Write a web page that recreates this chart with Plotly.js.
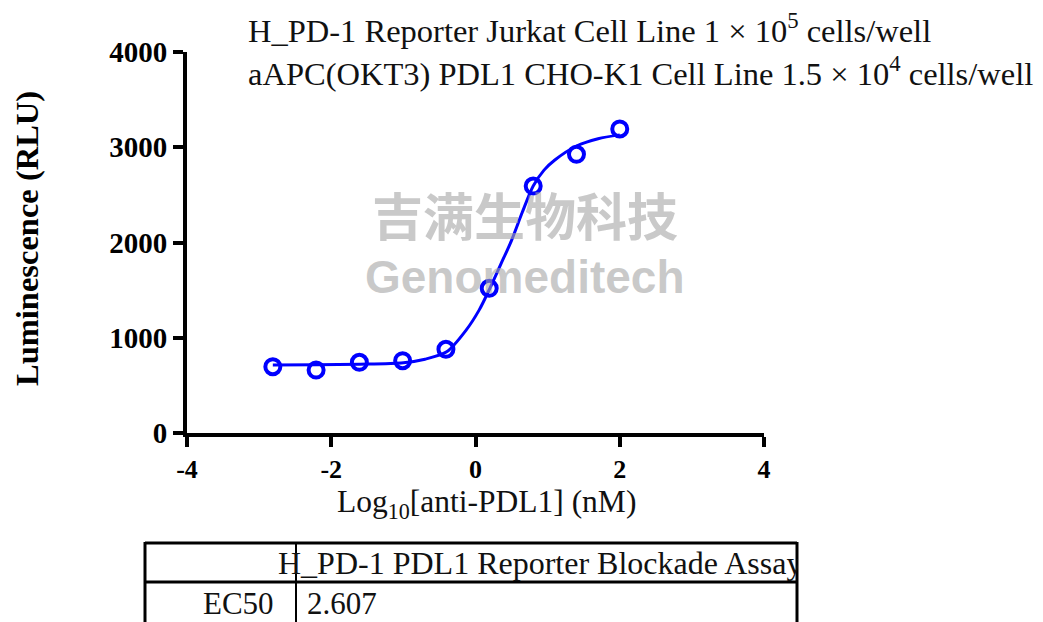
<!DOCTYPE html>
<html>
<head>
<meta charset="utf-8">
<script src="https://cdn.plot.ly/plotly-3.0.1.min.js"></script>
<style>
  html, body { margin: 0; padding: 0; background: #fff; }
  #chart { width: 1043px; height: 622px; }
</style>
</head>
<body>
<div id="chart"></div>
<script>
// ---- Data ----
const logConc = [-2.81, -2.21, -1.61, -1.01, -0.41, 0.19, 0.80, 1.40, 2.00];
const rlu = [696, 661, 742, 759, 879, 1519, 2593, 2926, 3192];

// fitted curve
const fitX = [-2.81, -2.2, -1.6, -1.0, -0.7, -0.4, -0.13, 0.05, 0.2, 0.35, 0.5, 0.65, 0.8, 0.95, 1.1, 1.4, 1.7, 2.0];
const fitY = [715, 716, 722, 738, 775, 852, 1080, 1290, 1519, 1770, 2023, 2320, 2593, 2760, 2866, 3013, 3090, 3130];

const xTicks = [-4, -2, 0, 2, 4];
const yTicks = [0, 1000, 2000, 3000, 4000];

const titleLines = [
  "H_PD-1 Reporter Jurkat Cell Line 1 × 10<sup>5</sup> cells/well",
  "aAPC(OKT3) PDL1 CHO-K1 Cell Line 1.5 × 10<sup>4</sup> cells/well"
];
const yTitle = "Luminescence (RLU)";
const xTitle = "Log<sub>10</sub>[anti-PDL1] (nM)";
const tableHeader = "H_PD-1 PDL1 Reporter Blockade Assay";
const tableRowLabel = "EC50";
const tableRowValue = "2.607";
const watermarkCN = "吉满生物科技";
const watermarkEN = "Genomeditech";

// ---- layout geometry (pixels) ----
const W = 1043, H = 622;
const L = 187, R = 764, T = 52, B = 433;
const pw = R - L, ph = B - T;
const px2x = p => (p - L) / pw;
const py2y = p => (B - p) / ph;

const serif = "Liberation Serif, Times New Roman, serif";
const blue = "#0000FF";

const traces = [
  {
    x: fitX, y: fitY, type: "scatter", mode: "lines",
    line: { color: blue, width: 3, shape: "spline", smoothing: 0.8 },
    hoverinfo: "skip", showlegend: false
  },
  {
    x: logConc, y: rlu, type: "scatter", mode: "markers",
    marker: { symbol: "circle-open", size: 15, color: blue, line: { width: 4, color: blue } },
    showlegend: false
  }
];

const lineW = 3;
const shapes = [
  { type: "line", xref: "paper", yref: "paper", x0: px2x(145), x1: px2x(797), y0: py2y(543), y1: py2y(543), line: { color: "#000", width: lineW } },
  { type: "line", xref: "paper", yref: "paper", x0: px2x(145), x1: px2x(797), y0: py2y(582), y1: py2y(582), line: { color: "#000", width: lineW } },
  { type: "line", xref: "paper", yref: "paper", x0: px2x(145), x1: px2x(145), y0: py2y(542), y1: py2y(640), line: { color: "#000", width: lineW } },
  { type: "line", xref: "paper", yref: "paper", x0: px2x(797), x1: px2x(797), y0: py2y(542), y1: py2y(640), line: { color: "#000", width: lineW } },
  { type: "line", xref: "paper", yref: "paper", x0: px2x(296), x1: px2x(296), y0: py2y(542), y1: py2y(640), line: { color: "#000", width: 2 } }
];

const annotations = [
  { text: watermarkCN, xref: "paper", yref: "paper", x: px2x(525), y: py2y(214), xanchor: "center", yanchor: "middle",
    showarrow: false, font: { family: "Noto Sans CJK SC", size: 51, color: "rgba(165,165,165,0.6)", weight: "bold" } },
  { text: watermarkEN, xref: "paper", yref: "paper", x: px2x(525), y: py2y(277), xanchor: "center", yanchor: "middle",
    showarrow: false, font: { family: "Liberation Sans", size: 46, color: "rgba(165,165,165,0.6)", weight: "bold" } },
  { text: titleLines[0], xref: "paper", yref: "paper", x: px2x(246), y: py2y(29), xanchor: "left", yanchor: "middle",
    showarrow: false, font: { family: serif, size: 32.5, color: "#111" } },
  { text: titleLines[1], xref: "paper", yref: "paper", x: px2x(246), y: py2y(71), xanchor: "left", yanchor: "middle",
    showarrow: false, font: { family: serif, size: 32.5, color: "#111" } },
  { text: yTitle, xref: "paper", yref: "paper", x: px2x(27), y: py2y(239), xanchor: "center", yanchor: "middle",
    textangle: -90, showarrow: false, font: { family: serif, size: 32.5, color: "#000", weight: "bold" } },
  { text: xTitle, xref: "paper", yref: "paper", x: px2x(486), y: py2y(504), xanchor: "center", yanchor: "middle",
    showarrow: false, font: { family: serif, size: 31.5, color: "#111" } },
  { text: tableHeader, xref: "paper", yref: "paper", x: px2x(276), y: py2y(563), xanchor: "left", yanchor: "middle",
    width: 520, align: "left",
    showarrow: false, font: { family: serif, size: 32, color: "#111" } },
  { text: tableRowLabel, xref: "paper", yref: "paper", x: px2x(276), y: py2y(603), xanchor: "right", yanchor: "middle",
    showarrow: false, font: { family: serif, size: 31, color: "#111" } },
  { text: tableRowValue, xref: "paper", yref: "paper", x: px2x(305), y: py2y(603), xanchor: "left", yanchor: "middle",
    showarrow: false, font: { family: serif, size: 31, color: "#111" } }
];

const layout = {
  width: W, height: H,
  margin: { l: L, r: W - R, t: T, b: H - B, pad: 0 },
  paper_bgcolor: "#fff", plot_bgcolor: "rgba(0,0,0,0)",
  showlegend: false,
  xaxis: {
    range: [-4, 4], tickvals: xTicks, ticktext: xTicks.map(String),
    showgrid: false, zeroline: false, showline: true, linecolor: "#000", linewidth: 4,
    ticks: "outside", ticklen: 10, tickwidth: 4, tickcolor: "#000",
    tickfont: { family: serif, size: 26, color: "#000", weight: "bold" },
    fixedrange: true
  },
  yaxis: {
    range: [0, 4000], tickvals: yTicks, ticktext: yTicks.map(String),
    showgrid: false, zeroline: false, showline: true, linecolor: "#000", linewidth: 4,
    ticks: "outside", ticklen: 10, tickwidth: 4, tickcolor: "#000",
    tickfont: { family: serif, size: 29, color: "#000", weight: "bold" },
    fixedrange: true
  },
  shapes: shapes,
  annotations: annotations
};

Plotly.newPlot("chart", traces, layout, { displayModeBar: false, staticPlot: true });
</script>
</body>
</html>
